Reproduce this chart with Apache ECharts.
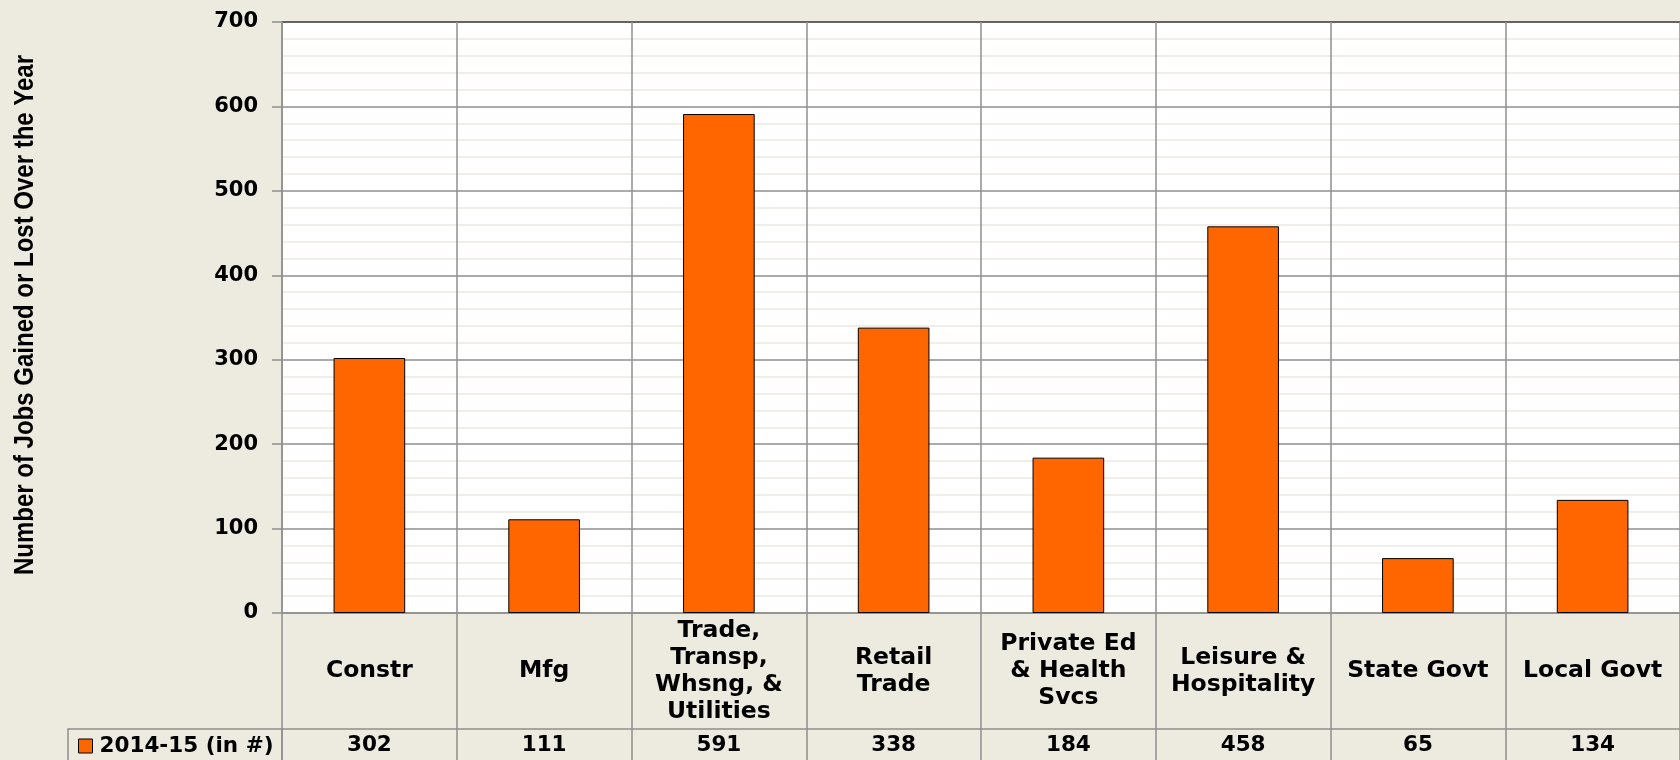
<!DOCTYPE html>
<html>
<head>
<meta charset="utf-8">
<script src="https://cdn.jsdelivr.net/npm/echarts@6/dist/echarts.min.js"></script>
<style>
html,body{margin:0;padding:0;background:#edeae0;}
#c{width:1680px;height:760px;}
</style>
</head>
<body>
<div id="c"></div>
<script>
const categories = ['Constr', 'Mfg', 'Trade,\nTransp,\nWhsng, &\nUtilities', 'Retail\nTrade', 'Private Ed\n& Health\nSvcs', 'Leisure &\nHospitality', 'State Govt', 'Local Govt'];
const values = [302, 111, 591, 338, 184, 458, 65, 134];
const seriesName = '2014-15 (in #)';
const axisTitle = 'Number of Jobs Gained or Lost Over the Year';
const yMin = 0, yMax = 700, yStep = 100;

const FONT = "'DejaVu Sans', 'Liberation Sans', sans-serif";
const GRID_COLOR = '#8f8f8f';

const chart = echarts.init(document.getElementById('c'), null, {renderer: 'canvas'});
chart.setOption({
  backgroundColor: '#edeae0',
  animation: false,
  grid: {left: 282, right: 0, top: 22, bottom: 147, show: true, backgroundColor: '#ffffff', borderWidth: 0},
  legend: {
    data: [seriesName],
    left: 78, top: 735, padding: 0,
    icon: 'rect', itemWidth: 14, itemHeight: 14, itemGap: 7,
    itemStyle: {borderColor: '#000', borderWidth: 1},
    textStyle: {fontFamily: FONT, fontWeight: 'bold', fontSize: 21.5, color: '#000', padding: [0, 0, 0, 2]}
  },
  xAxis: [{
    type: 'category', data: categories, position: 'bottom',
    axisLine: {show: true, lineStyle: {color: GRID_COLOR, width: 1.5}},
    axisTick: {show: true, length: 150, lineStyle: {color: GRID_COLOR, width: 1.5}},
    splitLine: {show: true, lineStyle: {color: GRID_COLOR, width: 1.5}},
    axisLabel: {interval: 0, margin: 58, verticalAlign: 'middle', align: 'center',
      fontFamily: FONT, fontWeight: 'bold', fontSize: 23.5, lineHeight: 27, color: '#000'}
  }, {
    type: 'category', data: categories, position: 'bottom', offset: 116,
    axisLine: {show: true, lineStyle: {color: GRID_COLOR, width: 1.5}},
    axisTick: {show: false},
    axisLabel: {interval: 0, margin: 16, verticalAlign: 'middle', align: 'center',
      fontFamily: FONT, fontWeight: 'bold', fontSize: 21.5, color: '#000',
      formatter: (v, i) => String(values[i])}
  }],
  yAxis: {
    type: 'value', min: yMin, max: yMax, interval: yStep,
    axisLine: {show: true, lineStyle: {color: GRID_COLOR, width: 1.5}},
    axisTick: {show: true, length: 10, lineStyle: {color: GRID_COLOR, width: 1.5}},
    axisLabel: {margin: 24, fontFamily: FONT, fontWeight: 'bold', fontSize: 21, color: '#000'},
    splitLine: {show: true, lineStyle: {color: [GRID_COLOR, GRID_COLOR, GRID_COLOR, GRID_COLOR, GRID_COLOR, GRID_COLOR, GRID_COLOR, '#333333'], width: 1.5}},
    minorTick: {show: false, splitNumber: 5},
    minorSplitLine: {show: true, lineStyle: {color: '#ebe9df', width: 1.5}}
  },
  graphic: [{
    type: 'text', x: 25, y: 315, rotation: Math.PI / 2, scaleY: 1.16,
    style: {text: axisTitle, fontFamily: "'Liberation Sans', Arial, sans-serif",
      fontWeight: 'bold', fontSize: 24, fill: '#000', textAlign: 'center', textVerticalAlign: 'middle'}
  }, {
    type: 'rect', shape: {x: 68, y: 729, width: 214, height: 60},
    style: {fill: 'none', stroke: GRID_COLOR, lineWidth: 1.5}, z: 10
  }],
  series: [{
    name: seriesName, type: 'bar', data: values, barWidth: '41%',
    itemStyle: {color: '#ff6600', borderColor: '#000', borderWidth: 1}
  }]
});
</script>
</body>
</html>
